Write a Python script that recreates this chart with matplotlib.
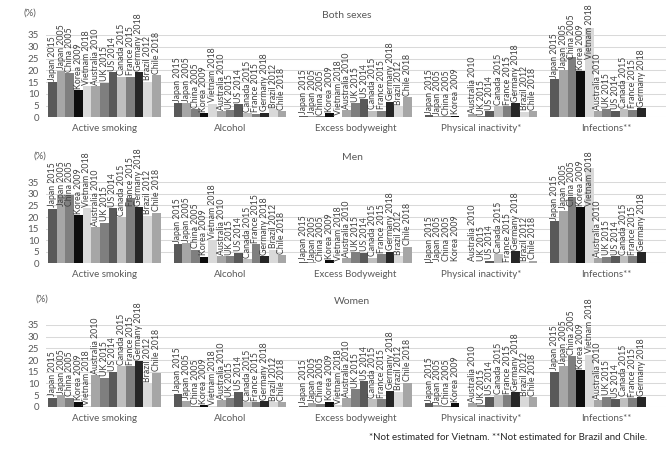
import numpy as np
import matplotlib
matplotlib.use('Agg')
import matplotlib.pyplot as plt

plt.rcParams['font.family'] = ['Lato', 'DejaVu Sans']

countries = ['Japan 2015', 'Japan 2005', 'China 2005', 'Korea 2009', 'Vietnam 2018',
             'Australia 2010', 'UK 2015', 'US 2014', 'Canada 2015', 'France 2015',
             'Germany 2018', 'Brazil 2012', 'Chile 2018']
bar_colors = ['#595959', '#a6a6a6', '#7f7f7f', '#0d0d0d', '#d9d9d9',
              '#a6a6a6', '#7f7f7f', '#595959', '#bfbfbf', '#7f7f7f',
              '#262626', '#d9d9d9', '#a6a6a6']

factors = ['Active smoking', 'Alcohol', 'Excess bodyweight', 'Physical inactivity*', 'Infections**']
factors_men = ['Active smoking', 'Alcohol', 'Excess Bodyweight', 'Physical inactivity*', 'Infections**']

nan = np.nan
# Both sexes (%)
both_smoking = [15.0, 19.8, 18.7, 11.6, 13.3, 13.3, 14.7, 19.1, 17.3, 17.3, 19.1, 15.2, 18.0]
both_alcohol = [6.0, 6.0, 3.4, 1.7, 5.7, 2.7, 3.1, 5.5, 1.7, 1.6, 2.0, 3.5, 2.7]
both_bodyweight = [0.6, 0.7, 0.4, 1.7, 0.3, 3.1, 6.0, 7.6, 2.8, 2.8, 6.7, 4.8, 8.5]
both_inactivity = [1.0, 0.4, 0.4, 0.7, nan, 1.4, 0.4, 2.7, 4.8, 4.8, 6.0, 2.4, 2.5]
both_infections = [16.3, 20.1, 25.5, 19.7, 38.0, 2.7, 3.5, 2.8, 3.5, 3.3, 3.8, nan, nan]
# Men (%)
men_smoking = [23.6, 29.7, 29.7, 20.9, 23.8, 15.7, 17.6, 23.8, 19.9, 28.4, 24.5, 20.5, 21.9]
men_alcohol = [8.2, 8.8, 5.8, 2.9, 10.1, 3.0, 3.2, 4.6, 1.9, 8.2, 3.2, 5.8, 3.6]
men_bodyweight = [0.7, 0.6, 0.2, 1.3, 0.3, 2.2, 4.9, 4.6, 2.4, 3.9, 5.0, 3.2, 7.1]
men_inactivity = [0.6, 0.2, 0.2, 0.2, nan, 0.2, 0.2, 1.2, 3.9, 0.1, 5.2, 0.4, 1.2]
men_infections = [18.2, 22.8, 28.8, 24.5, 41.0, 2.2, 2.9, 3.0, 3.0, 3.0, 4.8, nan, nan]
# Women (%)
women_smoking = [3.9, 5.0, 3.9, 2.1, 0.3, 13.4, 12.4, 14.9, 17.4, 17.4, 19.4, 10.0, 14.6]
women_alcohol = [5.6, 2.6, 0.4, 0.7, 0.1, 2.9, 3.6, 6.4, 1.9, 1.9, 2.3, 1.9, 2.0]
women_bodyweight = [0.4, 1.4, 1.3, 2.1, 0.6, 3.6, 7.4, 11.0, 3.1, 3.1, 6.9, 6.4, 10.3]
women_inactivity = [1.6, 0.7, 0.4, 1.4, nan, 1.4, 0.6, 4.3, 4.9, 4.9, 6.1, 4.0, 4.0]
women_infections = [15.0, 17.4, 21.7, 15.6, 22.2, 2.9, 4.3, 3.3, 3.9, 3.6, 4.0, nan, nan]

panels = [
    ('Both sexes', factors, [both_smoking, both_alcohol, both_bodyweight, both_inactivity, both_infections]),
    ('Men', factors_men, [men_smoking, men_alcohol, men_bodyweight, men_inactivity, men_infections]),
    ('Women', factors, [women_smoking, women_alcohol, women_bodyweight, women_inactivity, women_infections]),
]

W, H = 666, 458
fig = plt.figure(figsize=(W / 100, H / 100), dpi=100)

# pixel layout: (y of zero line, y of 35 line, title y, (%) x, (%) y)
layout = [(117.3, 35.0, 15, 23, 13),
          (263.3, 182.3, 158, 33, 156),
          (406.7, 325.0, 302, 35, 299)]
title_x = [347, 352, 352]

left_px = 45.9
px_per_bar = 8.66
spacing = 14.5
xmax = (W - left_px) / px_per_bar - 0.745

for (title, flabels, series), (y0, y35, ty, px, py), tx in zip(panels, layout, title_x):
    ax = fig.add_axes([left_px / W, (H - y0) / H, (W - left_px) / W, (y0 - y35) / H])
    for g, vals in enumerate(series):
        xs = g * spacing + np.arange(len(countries))
        ax.bar(xs, vals, width=1.0, color=bar_colors, clip_on=False, zorder=2)
        for x, v, name in zip(xs, vals, countries):
            if np.isnan(v):
                continue
            # bars running past the axis top get their label inside the bar
            ax.text(x, min(v, 24) + 0.6, name, rotation=90, ha='center', va='bottom',
                    fontsize=6.3, color='#404040', zorder=3)
    ax.set_xlim(-0.745, xmax)
    ax.set_ylim(0, 35)
    ax.set_yticks(np.arange(0, 36, 5))
    ax.set_xticks([g * spacing + 6 for g in range(5)])
    ax.set_xticklabels(flabels)
    ax.tick_params(axis='both', length=0, labelsize=7, labelcolor='#595959')
    ax.tick_params(axis='x', pad=5)
    ax.tick_params(axis='y', pad=5)
    ax.grid(axis='y', color='#d9d9d9', linewidth=0.75, zorder=0)
    ax.set_axisbelow(True)
    for s in ax.spines.values():
        s.set_visible(False)
    fig.text(tx / W, 1 - ty / H, title, ha='center', va='center', fontsize=7.5, color='#595959')
    fig.text(px / W, 1 - py / H, '(%)', ha='left', va='center', fontsize=7, color='#595959')

fig.text(647 / W, 1 - 438 / H, '*Not estimated for Vietnam. **Not estimated for Brazil and Chile.',
         ha='right', va='center', fontsize=7, color='#262626')

plt.savefig('out.png', dpi=100)
